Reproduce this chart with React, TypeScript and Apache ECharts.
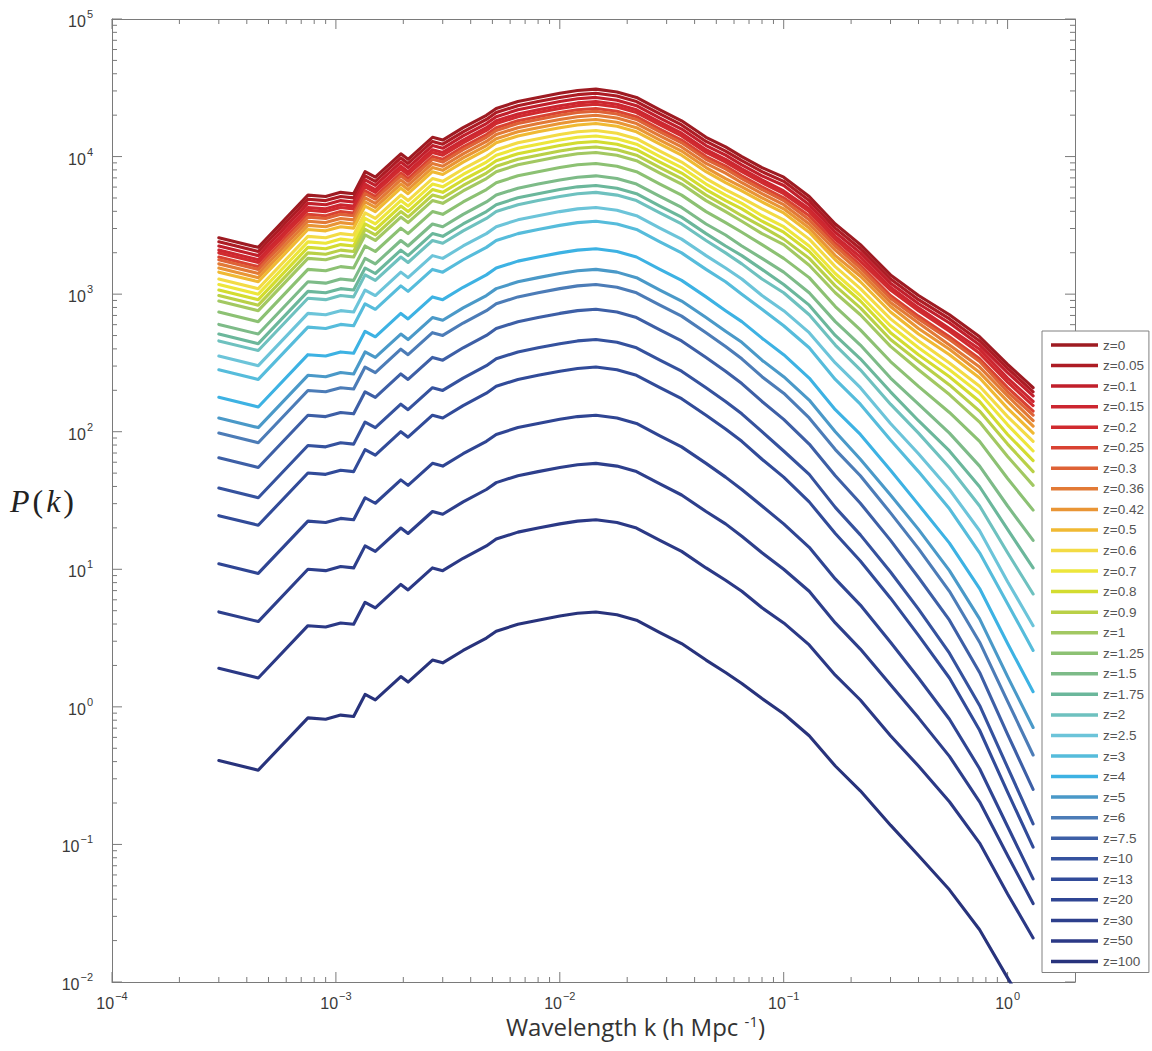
import React, { useEffect, useRef } from 'react';
import * as echarts from 'echarts';

// wavenumber grid (h/Mpc)
const K = [3.0e-4, 4.5e-4, 7.5e-4, 9.0e-4, 1.05e-3, 1.2e-3, 1.35e-3, 1.5e-3, 1.95e-3, 2.1e-3, 2.7e-3, 3.0e-3, 3.7e-3, 4.7e-3, 5.2e-3, 6.5e-3, 8.0e-3, 1.0e-2, 1.2e-2, 1.45e-2, 1.8e-2, 2.2e-2, 2.8e-2, 3.5e-2, 4.5e-2, 5.5e-2, 6.5e-2, 8.0e-2, 0.1, 0.13, 0.17, 0.22, 0.3, 0.4, 0.55, 0.75, 1.0, 1.3];

const Z_LABELS = ['z=0', 'z=0.05', 'z=0.1', 'z=0.15', 'z=0.2', 'z=0.25', 'z=0.3', 'z=0.36', 'z=0.42', 'z=0.5', 'z=0.6', 'z=0.7', 'z=0.8', 'z=0.9', 'z=1', 'z=1.25', 'z=1.5', 'z=1.75', 'z=2', 'z=2.5', 'z=3', 'z=4', 'z=5', 'z=6', 'z=7.5', 'z=10', 'z=13', 'z=20', 'z=30', 'z=50', 'z=100'];

const COLORS = ['#9E1B22', '#AD1C24', '#C11F2B', '#CC2630', '#D02A2F', '#D94232', '#DE6236', '#E27A36', '#E99535', '#F0B933', '#F3DB45', '#EDE63B', '#D3DC30', '#B9D047', '#A2C862', '#8CC173', '#7DBB88', '#6BB79B', '#6EC1BF', '#6CC4D9', '#56BCDB', '#3DB2E3', '#4A99C8', '#4C7CB7', '#3D5FA6', '#35529E', '#314B99', '#2F4593', '#2D3F8C', '#2B3986', '#28337C'];

// log10 P(k), one array per redshift, on the K grid
const LOGP_Z0 = [3.41, 3.34, 3.72, 3.71, 3.74, 3.73, 3.89, 3.85, 4.02, 3.98, 4.14, 4.12, 4.21, 4.30, 4.35, 4.40, 4.43, 4.46, 4.48, 4.49, 4.47, 4.43, 4.34, 4.26, 4.14, 4.07, 4.00, 3.92, 3.85, 3.71, 3.51, 3.36, 3.14, 2.99, 2.85, 2.69, 2.49, 2.32];
const LOGP_Z005 = [3.38, 3.31, 3.69, 3.68, 3.71, 3.70, 3.86, 3.82, 3.99, 3.95, 4.11, 4.09, 4.18, 4.27, 4.32, 4.37, 4.40, 4.43, 4.45, 4.46, 4.44, 4.40, 4.31, 4.23, 4.11, 4.04, 3.97, 3.89, 3.82, 3.68, 3.48, 3.33, 3.11, 2.96, 2.82, 2.66, 2.46, 2.29];
const LOGP_Z01 = [3.35, 3.28, 3.66, 3.65, 3.68, 3.67, 3.83, 3.79, 3.96, 3.92, 4.08, 4.06, 4.15, 4.24, 4.29, 4.34, 4.37, 4.40, 4.42, 4.43, 4.41, 4.37, 4.28, 4.20, 4.08, 4.01, 3.94, 3.86, 3.79, 3.65, 3.45, 3.30, 3.08, 2.93, 2.79, 2.63, 2.43, 2.26];
const LOGP_Z015 = [3.32, 3.25, 3.63, 3.62, 3.65, 3.64, 3.80, 3.76, 3.93, 3.89, 4.05, 4.03, 4.12, 4.21, 4.26, 4.31, 4.34, 4.37, 4.39, 4.40, 4.38, 4.34, 4.25, 4.17, 4.05, 3.98, 3.91, 3.83, 3.75, 3.62, 3.42, 3.27, 3.05, 2.90, 2.75, 2.60, 2.39, 2.22];
const LOGP_Z02 = [3.30, 3.23, 3.61, 3.60, 3.63, 3.62, 3.78, 3.74, 3.91, 3.87, 4.03, 4.01, 4.10, 4.19, 4.24, 4.29, 4.32, 4.35, 4.37, 4.38, 4.36, 4.32, 4.23, 4.15, 4.03, 3.96, 3.89, 3.81, 3.73, 3.60, 3.40, 3.24, 3.03, 2.88, 2.73, 2.57, 2.36, 2.19];
const LOGP_Z025 = [3.27, 3.20, 3.58, 3.57, 3.60, 3.59, 3.75, 3.71, 3.88, 3.84, 4.00, 3.98, 4.07, 4.16, 4.21, 4.26, 4.29, 4.32, 4.34, 4.35, 4.33, 4.29, 4.20, 4.12, 4.00, 3.93, 3.86, 3.78, 3.70, 3.57, 3.37, 3.21, 2.99, 2.84, 2.69, 2.53, 2.32, 2.15];
const LOGP_Z03 = [3.25, 3.18, 3.56, 3.55, 3.58, 3.57, 3.73, 3.69, 3.86, 3.82, 3.98, 3.96, 4.05, 4.14, 4.19, 4.24, 4.27, 4.30, 4.32, 4.33, 4.31, 4.27, 4.18, 4.10, 3.98, 3.91, 3.84, 3.76, 3.68, 3.54, 3.35, 3.19, 2.97, 2.82, 2.67, 2.51, 2.29, 2.12];
const LOGP_Z036 = [3.22, 3.15, 3.53, 3.52, 3.55, 3.54, 3.70, 3.66, 3.83, 3.79, 3.95, 3.93, 4.02, 4.11, 4.16, 4.21, 4.24, 4.27, 4.29, 4.30, 4.28, 4.24, 4.15, 4.07, 3.95, 3.88, 3.81, 3.73, 3.65, 3.51, 3.32, 3.16, 2.94, 2.79, 2.63, 2.47, 2.26, 2.08];
const LOGP_Z042 = [3.19, 3.12, 3.50, 3.49, 3.52, 3.51, 3.67, 3.63, 3.80, 3.76, 3.92, 3.90, 3.99, 4.08, 4.13, 4.18, 4.21, 4.24, 4.26, 4.27, 4.25, 4.21, 4.12, 4.04, 3.92, 3.84, 3.78, 3.70, 3.62, 3.48, 3.28, 3.13, 2.91, 2.75, 2.60, 2.43, 2.22, 2.04];
const LOGP_Z05 = [3.16, 3.09, 3.47, 3.46, 3.49, 3.48, 3.64, 3.60, 3.77, 3.73, 3.89, 3.87, 3.96, 4.05, 4.10, 4.15, 4.18, 4.21, 4.23, 4.24, 4.22, 4.18, 4.09, 4.01, 3.89, 3.81, 3.75, 3.67, 3.59, 3.45, 3.25, 3.09, 2.87, 2.71, 2.56, 2.39, 2.17, 1.99];
const LOGP_Z06 = [3.11, 3.04, 3.42, 3.41, 3.44, 3.43, 3.59, 3.55, 3.72, 3.68, 3.84, 3.82, 3.91, 4.00, 4.05, 4.10, 4.13, 4.16, 4.18, 4.19, 4.17, 4.13, 4.04, 3.96, 3.84, 3.76, 3.70, 3.62, 3.54, 3.40, 3.20, 3.04, 2.82, 2.66, 2.50, 2.33, 2.11, 1.93];
const LOGP_Z07 = [3.07, 3.00, 3.38, 3.37, 3.40, 3.39, 3.55, 3.51, 3.68, 3.64, 3.80, 3.78, 3.87, 3.96, 4.01, 4.06, 4.09, 4.12, 4.14, 4.15, 4.13, 4.09, 4.00, 3.92, 3.80, 3.72, 3.66, 3.57, 3.49, 3.35, 3.15, 2.99, 2.77, 2.61, 2.45, 2.28, 2.05, 1.86];
const LOGP_Z08 = [3.03, 2.96, 3.34, 3.33, 3.36, 3.35, 3.51, 3.47, 3.64, 3.60, 3.76, 3.74, 3.83, 3.92, 3.97, 4.02, 4.05, 4.08, 4.10, 4.11, 4.09, 4.05, 3.96, 3.88, 3.76, 3.68, 3.62, 3.53, 3.45, 3.31, 3.11, 2.95, 2.72, 2.56, 2.40, 2.22, 1.98, 1.79];
const LOGP_Z09 = [2.99, 2.92, 3.30, 3.29, 3.32, 3.31, 3.47, 3.43, 3.60, 3.56, 3.72, 3.70, 3.79, 3.88, 3.93, 3.98, 4.01, 4.04, 4.06, 4.07, 4.05, 4.01, 3.92, 3.84, 3.72, 3.64, 3.57, 3.49, 3.40, 3.26, 3.06, 2.90, 2.67, 2.51, 2.34, 2.15, 1.91, 1.71];
const LOGP_Z1 = [2.95, 2.88, 3.26, 3.25, 3.28, 3.27, 3.43, 3.39, 3.56, 3.52, 3.68, 3.66, 3.75, 3.84, 3.89, 3.94, 3.97, 4.00, 4.02, 4.03, 4.01, 3.97, 3.88, 3.80, 3.68, 3.60, 3.53, 3.44, 3.36, 3.21, 3.01, 2.85, 2.62, 2.45, 2.27, 2.07, 1.82, 1.61];
const LOGP_Z125 = [2.87, 2.80, 3.18, 3.17, 3.20, 3.19, 3.35, 3.31, 3.48, 3.44, 3.60, 3.58, 3.67, 3.76, 3.81, 3.86, 3.89, 3.92, 3.94, 3.95, 3.93, 3.89, 3.80, 3.72, 3.60, 3.52, 3.45, 3.36, 3.26, 3.12, 2.91, 2.74, 2.51, 2.33, 2.14, 1.93, 1.66, 1.43];
const LOGP_Z15 = [2.78, 2.71, 3.09, 3.08, 3.11, 3.10, 3.26, 3.22, 3.39, 3.35, 3.51, 3.49, 3.58, 3.67, 3.72, 3.77, 3.80, 3.83, 3.85, 3.86, 3.84, 3.80, 3.71, 3.63, 3.51, 3.43, 3.35, 3.26, 3.16, 3.01, 2.80, 2.63, 2.39, 2.20, 1.99, 1.75, 1.46, 1.21];
const LOGP_Z175 = [2.71, 2.64, 3.02, 3.01, 3.04, 3.03, 3.19, 3.15, 3.32, 3.28, 3.44, 3.42, 3.51, 3.60, 3.65, 3.70, 3.73, 3.76, 3.78, 3.79, 3.77, 3.73, 3.64, 3.56, 3.44, 3.35, 3.28, 3.18, 3.07, 2.92, 2.70, 2.53, 2.29, 2.08, 1.86, 1.60, 1.29, 1.01];
const LOGP_Z2 = [2.66, 2.59, 2.97, 2.96, 2.99, 2.98, 3.14, 3.10, 3.27, 3.23, 3.39, 3.37, 3.46, 3.55, 3.60, 3.65, 3.68, 3.71, 3.73, 3.74, 3.72, 3.68, 3.59, 3.51, 3.39, 3.30, 3.22, 3.11, 3.01, 2.85, 2.63, 2.45, 2.20, 1.99, 1.74, 1.46, 1.12, 0.82];
const LOGP_Z25 = [2.55, 2.48, 2.86, 2.85, 2.88, 2.87, 3.03, 2.99, 3.16, 3.12, 3.28, 3.26, 3.35, 3.44, 3.49, 3.54, 3.57, 3.60, 3.62, 3.63, 3.61, 3.57, 3.48, 3.40, 3.28, 3.19, 3.11, 2.99, 2.88, 2.72, 2.50, 2.32, 2.06, 1.84, 1.58, 1.28, 0.91, 0.59];
const LOGP_Z3 = [2.45, 2.38, 2.76, 2.75, 2.78, 2.77, 2.93, 2.89, 3.06, 3.02, 3.18, 3.16, 3.25, 3.34, 3.39, 3.44, 3.47, 3.50, 3.52, 3.53, 3.51, 3.47, 3.38, 3.30, 3.18, 3.09, 3.00, 2.89, 2.77, 2.61, 2.38, 2.20, 1.94, 1.71, 1.44, 1.12, 0.75, 0.41];
const LOGP_Z4 = [2.25, 2.18, 2.56, 2.55, 2.58, 2.57, 2.73, 2.69, 2.86, 2.82, 2.98, 2.96, 3.05, 3.14, 3.19, 3.24, 3.27, 3.30, 3.32, 3.33, 3.31, 3.27, 3.18, 3.10, 2.98, 2.88, 2.80, 2.68, 2.56, 2.39, 2.16, 1.98, 1.72, 1.47, 1.19, 0.86, 0.46, 0.11];
const LOGP_Z5 = [2.10, 2.03, 2.41, 2.40, 2.43, 2.42, 2.58, 2.54, 2.71, 2.67, 2.83, 2.81, 2.90, 2.99, 3.04, 3.09, 3.12, 3.15, 3.17, 3.18, 3.16, 3.12, 3.03, 2.95, 2.83, 2.73, 2.65, 2.52, 2.40, 2.23, 2.00, 1.80, 1.54, 1.29, 0.99, 0.64, 0.22, -0.15];
const LOGP_Z6 = [1.99, 1.92, 2.30, 2.29, 2.32, 2.31, 2.47, 2.43, 2.60, 2.56, 2.72, 2.70, 2.79, 2.88, 2.93, 2.98, 3.01, 3.04, 3.06, 3.07, 3.05, 3.01, 2.92, 2.84, 2.72, 2.62, 2.53, 2.40, 2.28, 2.10, 1.87, 1.68, 1.41, 1.15, 0.84, 0.47, 0.04, -0.35];
const LOGP_Z75 = [1.81, 1.74, 2.12, 2.11, 2.14, 2.13, 2.29, 2.25, 2.42, 2.38, 2.54, 2.52, 2.61, 2.70, 2.75, 2.80, 2.83, 2.86, 2.88, 2.89, 2.87, 2.83, 2.74, 2.66, 2.54, 2.44, 2.35, 2.22, 2.09, 1.91, 1.68, 1.48, 1.21, 0.94, 0.63, 0.25, -0.20, -0.60];
const LOGP_Z10 = [1.59, 1.52, 1.90, 1.89, 1.92, 1.91, 2.07, 2.03, 2.20, 2.16, 2.32, 2.30, 2.39, 2.48, 2.53, 2.58, 2.61, 2.64, 2.66, 2.67, 2.65, 2.61, 2.52, 2.44, 2.32, 2.22, 2.13, 2.00, 1.86, 1.69, 1.45, 1.25, 0.98, 0.71, 0.39, 0.01, -0.44, -0.85];
const LOGP_Z13 = [1.39, 1.32, 1.70, 1.69, 1.72, 1.71, 1.87, 1.83, 2.00, 1.96, 2.12, 2.10, 2.19, 2.28, 2.33, 2.38, 2.41, 2.44, 2.46, 2.47, 2.45, 2.41, 2.32, 2.24, 2.12, 2.02, 1.93, 1.80, 1.67, 1.49, 1.26, 1.06, 0.79, 0.52, 0.21, -0.17, -0.62, -1.02];
const LOGP_Z20 = [1.04, 0.97, 1.35, 1.34, 1.37, 1.36, 1.52, 1.48, 1.65, 1.61, 1.77, 1.75, 1.84, 1.93, 1.98, 2.03, 2.06, 2.09, 2.11, 2.12, 2.10, 2.06, 1.97, 1.89, 1.77, 1.67, 1.58, 1.46, 1.33, 1.16, 0.93, 0.74, 0.47, 0.21, -0.09, -0.45, -0.87, -1.25];
const LOGP_Z30 = [0.69, 0.62, 1.00, 0.99, 1.02, 1.01, 1.17, 1.13, 1.30, 1.26, 1.42, 1.40, 1.49, 1.58, 1.63, 1.68, 1.71, 1.74, 1.76, 1.77, 1.75, 1.71, 1.62, 1.54, 1.42, 1.33, 1.24, 1.12, 1.00, 0.84, 0.61, 0.42, 0.16, -0.08, -0.36, -0.69, -1.08, -1.43];
const LOGP_Z50 = [0.28, 0.21, 0.59, 0.58, 0.61, 0.60, 0.76, 0.72, 0.89, 0.85, 1.01, 0.99, 1.08, 1.17, 1.22, 1.27, 1.30, 1.33, 1.35, 1.36, 1.34, 1.30, 1.21, 1.13, 1.01, 0.92, 0.84, 0.72, 0.61, 0.45, 0.23, 0.05, -0.21, -0.43, -0.69, -0.99, -1.36, -1.68];
const LOGP_Z100 = [-0.39, -0.46, -0.08, -0.09, -0.06, -0.07, 0.09, 0.05, 0.22, 0.18, 0.34, 0.32, 0.41, 0.50, 0.55, 0.60, 0.63, 0.66, 0.68, 0.69, 0.67, 0.63, 0.54, 0.46, 0.34, 0.25, 0.17, 0.06, -0.05, -0.21, -0.43, -0.61, -0.86, -1.08, -1.33, -1.62, -1.97, -2.28];

const LOGP_ALL = [LOGP_Z0, LOGP_Z005, LOGP_Z01, LOGP_Z015, LOGP_Z02, LOGP_Z025, LOGP_Z03, LOGP_Z036, LOGP_Z042, LOGP_Z05, LOGP_Z06, LOGP_Z07, LOGP_Z08, LOGP_Z09, LOGP_Z1, LOGP_Z125, LOGP_Z15, LOGP_Z175, LOGP_Z2, LOGP_Z25, LOGP_Z3, LOGP_Z4, LOGP_Z5, LOGP_Z6, LOGP_Z75, LOGP_Z10, LOGP_Z13, LOGP_Z20, LOGP_Z30, LOGP_Z50, LOGP_Z100];

// axis ranges and ticks
const X_MIN = 1e-4;
const X_MAX = 2;
const Y_MIN = 1e-2;
const Y_MAX = 1e5;
const X_MAJOR = [1e-4, 1e-3, 1e-2, 1e-1, 1];
const Y_MAJOR = [1e-2, 1e-1, 1, 10, 100, 1e3, 1e4, 1e5];
const MULT = [2, 3, 4, 5, 6, 7, 8, 9];

const AXIS_COLOR = '#7a7a7a';
const TEXT_COLOR = '#3a3a3a';
const SANS = 'Liberation Sans, Arial, sans-serif';

function minorTicks(majors: number[], max: number): number[] {
  const out: number[] = [];
  majors.forEach((m) => MULT.forEach((f) => { const v = m * f; if (v < max * 0.999) out.push(v); }));
  return out;
}

const X_MINOR = minorTicks(X_MAJOR, X_MAX);
const Y_MINOR = minorTicks(Y_MAJOR, Y_MAX);

function powLabel(v: number): string {
  const e = Math.log10(v);
  const r = Math.round(e);
  if (Math.abs(e - r) > 1e-6) return '';
  const s = r < 0 ? '\u2212' + Math.abs(r) : String(r);
  return '{b|10}{s|' + s + '}';
}

const labelRich = {
  b: { fontSize: 16, fontFamily: SANS, color: TEXT_COLOR, verticalAlign: 'bottom' },
  s: { fontSize: 11, fontFamily: SANS, color: TEXT_COLOR, verticalAlign: 'bottom', padding: [0, 0, 10, 1] },
};

export default function App() {
  const ref = useRef<HTMLDivElement>(null);
  useEffect(() => {
    if (!ref.current) return;
    const chart = echarts.init(ref.current, undefined, { renderer: 'svg' });

    const lineSeries = Z_LABELS.map((name, i) => ({
      name,
      type: 'line',
      data: K.map((k, j) => [k, Math.pow(10, LOGP_ALL[i][j])]),
      symbol: 'none',
      showSymbol: false,
      smooth: false,
      clip: true,
      silent: true,
      lineStyle: { width: 3.1, color: COLORS[i], join: 'round', cap: 'round' },
      itemStyle: { color: COLORS[i] },
      emphasis: { disabled: true },
      xAxisIndex: 0,
      yAxisIndex: 0,
    }));

    const tickStyle = { stroke: AXIS_COLOR, lineWidth: 1 };

    const xTickSeries = {
      type: 'custom',
      name: '_xticks',
      silent: true,
      xAxisIndex: 0,
      yAxisIndex: 0,
      clip: false,
      data: [
        ...X_MAJOR.map((v) => [v, 1, 10]),
        ...X_MINOR.map((v) => [v, 1, 5]),
      ],
      renderItem: (_p: any, api: any) => {
        const v = api.value(0);
        const len = api.value(2);
        const b = api.coord([v, Y_MIN]);
        const t = api.coord([v, Y_MAX]);
        return {
          type: 'group',
          children: [
            { type: 'line', shape: { x1: b[0], y1: b[1], x2: b[0], y2: b[1] - len }, style: tickStyle },
            { type: 'line', shape: { x1: t[0], y1: t[1], x2: t[0], y2: t[1] + len }, style: tickStyle },
          ],
        };
      },
    };

    const yTickSeries = {
      type: 'custom',
      name: '_yticks',
      silent: true,
      xAxisIndex: 0,
      yAxisIndex: 0,
      clip: false,
      data: [
        ...Y_MAJOR.map((v) => [1e-2, v, 10]),
        ...Y_MINOR.map((v) => [1e-2, v, 5]),
      ],
      renderItem: (_p: any, api: any) => {
        const v = api.value(1);
        const len = api.value(2);
        const l = api.coord([X_MIN, v]);
        const r = api.coord([X_MAX, v]);
        return {
          type: 'group',
          children: [
            { type: 'line', shape: { x1: l[0], y1: l[1], x2: l[0] + len, y2: l[1] }, style: tickStyle },
            { type: 'line', shape: { x1: r[0], y1: r[1], x2: r[0] - len, y2: r[1] }, style: tickStyle },
          ],
        };
      },
    };

    const baseAxis = {
      type: 'log',
      logBase: 10,
      axisLine: { show: true, onZero: false, lineStyle: { color: AXIS_COLOR, width: 1 } },
      axisTick: { show: false },
      splitLine: { show: false },
      minorTick: { show: false },
      minorSplitLine: { show: false },
    };

    const option = {
      animation: false,
      backgroundColor: '#ffffff',
      grid: { left: 112, top: 19, right: 77, bottom: 69, containLabel: false },
      legend: {
        orient: 'vertical',
        left: 1042,
        top: 331,
        data: Z_LABELS,
        selectedMode: false,
        icon: 'rect',
        itemWidth: 47,
        itemHeight: 3.5,
        itemGap: 6.55,
        padding: [7, 5, 4, 9],
        borderColor: '#808080',
        borderWidth: 1,
        backgroundColor: '#ffffff',
        textStyle: { fontSize: 13.5, lineHeight: 14, color: '#555555', fontFamily: SANS },
      },
      xAxis: [
        {
          ...baseAxis,
          position: 'bottom',
          min: X_MIN,
          max: X_MAX,
          axisLabel: {
            formatter: powLabel,
            margin: 8,
            fontSize: 16,
            fontFamily: SANS,
            color: TEXT_COLOR,
            rich: labelRich,
            showMinLabel: true,
            showMaxLabel: true,
          },
          name: 'Wavelength k (h Mpc {s|-1})',
          nameLocation: 'middle',
          nameGap: 31,
          nameMoveOverlap: false,
          nameTextStyle: {
            fontSize: 24,
            fontFamily: 'Open Sans, sans-serif',
            color: '#333333',
            padding: [0, 0, 0, 84],
            rich: { s: { fontSize: 15, fontFamily: 'Open Sans, sans-serif', color: '#333333', verticalAlign: 'bottom', padding: [0, 0, 12, 0] } },
          },
        },
        {
          ...baseAxis,
          position: 'top',
          min: X_MIN,
          max: X_MAX,
          axisLabel: { show: false },
        },
      ],
      yAxis: [
        {
          ...baseAxis,
          position: 'left',
          min: Y_MIN,
          max: Y_MAX,
          axisLabel: {
            formatter: powLabel,
            margin: 19,
            fontSize: 16,
            fontFamily: SANS,
            color: TEXT_COLOR,
            rich: labelRich,
            showMinLabel: true,
            showMaxLabel: true,
          },
          name: '{i|P}{r|(}{i|k}{r|)}',
          nameLocation: 'middle',
          nameRotate: 0,
          nameGap: 37,
          nameMoveOverlap: false,
          nameTextStyle: {
            rich: {
              i: { fontSize: 32, fontStyle: 'italic', fontFamily: 'Liberation Serif, serif', color: '#222222', padding: [0, 2, 0, 2] },
              r: { fontSize: 32, fontFamily: 'Liberation Serif, serif', color: '#222222', padding: [0, 1, 0, 1] },
            },
          },
        },
        {
          ...baseAxis,
          position: 'right',
          min: Y_MIN,
          max: Y_MAX,
          axisLabel: { show: false },
        },
      ],
      series: [...lineSeries, xTickSeries, yTickSeries],
    };

    chart.setOption(option as any);
    return () => chart.dispose();
  }, []);

  return (
    <div
      ref={ref}
      style={{ position: 'fixed', left: 0, top: 0, width: 1152, height: 1051, background: '#ffffff' }}
    />
  );
}
